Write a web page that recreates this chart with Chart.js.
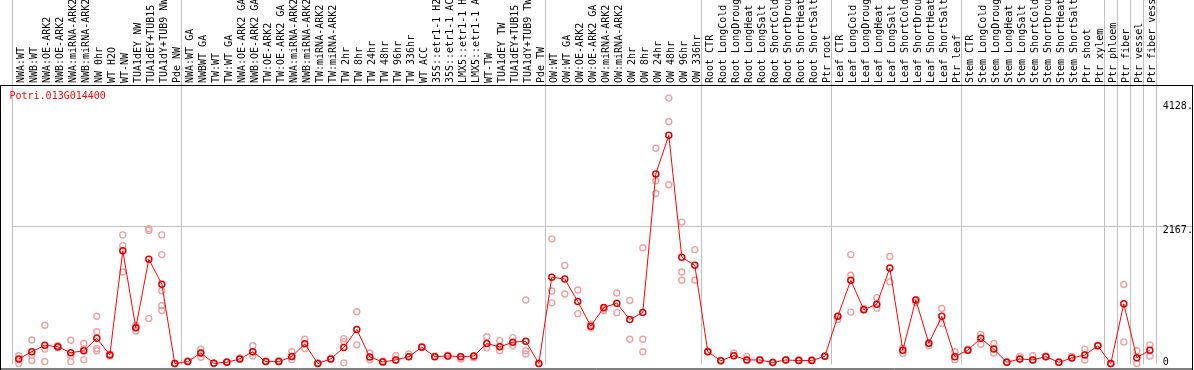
<!DOCTYPE html>
<html>
<head>
<meta charset="utf-8">
<style>
  html, body { margin: 0; padding: 0; background: #ffffff; }
  #c { display: block; }
</style>
<script src="https://cdn.jsdelivr.net/npm/chart.js@4.4.0/dist/chart.umd.min.js"></script>
</head>
<body>
<canvas id="c" width="1194" height="370"></canvas>
<script>
const GENE = 'Potri.013G014400';

const CATEGORIES = [
  'NWA:WT', 'NWB:WT', 'NWA:OE-ARK2', 'NWB:OE-ARK2', 'NWA:miRNA-ARK2', 'NWB:miRNA-ARK2',
  'NW 0hr', 'WT H2O', 'WT-NW', 'TUA1dEY NW', 'TUA1dEY+TUB15 NW', 'TUA1dY+TUB9 NW', 'Pde NW',
  'NWA:WT GA', 'NWBWT GA', 'TW:WT', 'TW:WT GA', 'NWA:OE-ARK2 GA', 'NWB:OE-ARK2 GA',
  'TW:OE-ARK2', 'TW:OE-ARK2 GA', 'NWA:miRNA-ARK2', 'NWB:miRNA-ARK2', 'TW:miRNA-ARK2',
  'TW:miRNA-ARK2', 'TW 2hr', 'TW 8hr', 'TW 24hr', 'TW 48hr', 'TW 96hr', 'TW 336hr',
  'WT ACC', '35S::etr1-1 H2O', '35S::etr1-1 ACC', 'LMX5::etr1-1 H2O', 'LMX5::etr1-1 ACC',
  'WT-TW', 'TUA1dEY TW', 'TUA1dEY+TUB15 TW', 'TUA1dY+TUB9 TW', 'Pde TW',
  'OW:WT', 'OW:WT GA', 'OW:OE-ARK2', 'OW:OE-ARK2 GA', 'OW:miRNA-ARK2', 'OW:miRNA-ARK2',
  'OW 2hr', 'OW 8hr', 'OW 24hr', 'OW 48hr', 'OW 96hr', 'OW 336hr',
  'Root CTR', 'Root LongCold', 'Root LongDrought', 'Root LongHeat', 'Root LongSalt',
  'Root ShortCold', 'Root ShortDrought', 'Root ShortHeat', 'Root ShortSalt', 'Ptr root',
  'Leaf CTR', 'Leaf LongCold', 'Leaf LongDrought', 'Leaf LongHeat', 'Leaf LongSalt',
  'Leaf ShortCold', 'Leaf ShortDrought', 'Leaf ShortHeat', 'Leaf ShortSalt', 'Ptr leaf',
  'Stem CTR', 'Stem LongCold', 'Stem LongDrought', 'Stem LongHeat', 'Stem LongSalt',
  'Stem ShortCold', 'Stem ShortDrought', 'Stem ShortHeat', 'Stem ShortSalt',
  'Ptr shoot', 'Ptr xylem', 'Ptr phloem', 'Ptr fiber', 'Ptr vessel', 'Ptr fiber vessel'
];

const MEANS = [
  73, 187, 290, 264, 171, 202, 399, 135, 1783, 565, 1648, 1254, 0,
  31, 166, 5, 20, 73, 187, 31, 31, 110, 311, 0, 73, 254, 539, 104, 26, 57, 109,
  259, 109, 119, 109, 119, 316, 264, 337, 352, 0,
  1365, 1335, 979, 591, 886, 953, 695, 808, 2995, 3606, 1679, 1552,
  187, 44, 124, 57, 57, 16, 57, 47, 47, 114,
  746, 1316, 850, 938, 1508, 212, 1005, 321, 746, 109,
  212, 399, 228, 20, 73, 57, 109, 20, 88, 135, 280,
  0, 943, 93, 212
];

const REPLICATES = [
  [124, 62, 0], [373, 47, 140], [606, 228, 31], [264, 250, 280], [368, 124, 31],
  [316, 62, 230], [746, 502, 238, 202], [151, 120, 135], [2032, 1861, 1446],
  [513, 600, 580], [2130, 2103, 710], [2032, 1721, 1150, 912, 839], [0, 0],
  [31, 40], [228, 166, 100], [5, 10], [20, 30], [73, 90], [280, 124, 187],
  [31, 40], [31, 45], [187, 110, 60], [384, 238], [0, 10], [73, 80],
  [394, 347, 11], [819, 295], [166, 62], [26, 40], [124, 57], [151, 109],
  [259, 270], [109, 120], [119, 130], [73, 109], [119, 90],
  [424, 249], [362, 202], [409, 280], [1005, 202, 151], [0],
  [1969, 1146, 959], [1550, 1099], [1161, 788], [564, 617], [866, 835],
  [1115, 804], [995, 384], [1830, 384, 187], [3400, 2887, 2685],
  [4193, 3819, 2825], [2234, 1446, 1316], [1799, 1316],
  [187, 200], [44, 50], [166, 124], [114, 57], [57, 60], [16, 20], [57, 60],
  [47, 60], [47, 60], [114, 120],
  [695, 746], [1721, 1394, 813], [850, 870], [1041, 875], [1690, 1290],
  [160, 244], [964, 1005], [280, 321], [870, 632], [187, 62],
  [212, 230], [461, 306], [316, 166], [20, 30], [114, 73], [124, 57],
  [109, 120], [20, 25], [114, 88], [228, 57], [280, 290],
  [0, 0], [1248, 342], [202, 0], [295, 119]
];

const Y_TICKS = [0, 2167, 4128];
const Y_TICK_LABELS = ['0', '2167.', '4128.'];
const SEPARATORS = [0, 13, 41, 53, 63, 73, 84, 85, 86, 87, 88];

const FONT = '10px "DejaVu Sans Mono", monospace';

const meanPoints = MEANS.map((v, i) => ({ x: i, y: v }));
const repPoints = [];
REPLICATES.forEach((reps, i) => reps.forEach(v => repPoints.push({ x: i, y: v })));

const framePlugin = {
  id: 'frame',
  afterDraw(chart) {
    const ctx = chart.ctx;
    const ca = chart.chartArea;
    const W = chart.width, H = chart.height;
    ctx.save();
    ctx.strokeStyle = '#000000';
    ctx.lineWidth = 1;
    ctx.beginPath();
    ctx.moveTo(0, ca.top + 0.5); ctx.lineTo(W - 1, ca.top + 0.5);
    ctx.moveTo(0.5, ca.top); ctx.lineTo(0.5, H);
    ctx.moveTo(W - 1.5, ca.top); ctx.lineTo(W - 1.5, H);
    ctx.moveTo(0, H - 1); ctx.lineTo(W - 1, H - 1);
    ctx.stroke();

    // y-axis labels (right side), text hangs below its grid value
    const ys = chart.scales.y;
    ctx.font = FONT;
    ctx.fillStyle = '#000000';
    ctx.textAlign = 'left';
    ctx.textBaseline = 'middle';
    Y_TICKS.forEach((v, k) => {
      let py = ys.getPixelForValue(v) + 4.4;
      py = Math.min(py, H - 8);
      ctx.fillText(Y_TICK_LABELS[k], ca.right + 6.5, py);
    });

    // gene title
    ctx.fillStyle = '#ff0000';
    ctx.fillText(GENE, 9.5, ca.top + 11);
    ctx.restore();
  }
};

new Chart(document.getElementById('c'), {
  type: 'line',
  data: {
    datasets: [
      {
        label: 'mean',
        data: meanPoints,
        borderColor: '#ff0000',
        borderWidth: 1,
        pointRadius: 3,
        pointBorderWidth: 1.5,
        pointBorderColor: '#e00000',
        pointBackgroundColor: 'rgba(0,0,0,0)',
        pointStyle: 'circle',
        tension: 0,
        clip: false
      },
      {
        label: 'replicates',
        data: repPoints,
        showLine: false,
        pointRadius: 3,
        pointBorderWidth: 1.4,
        pointBorderColor: '#f0a0a0',
        pointBackgroundColor: 'rgba(0,0,0,0)',
        clip: false
      }
    ]
  },
  options: {
    responsive: false,
    animation: false,
    devicePixelRatio: 1,
    events: [],
    layout: { padding: { left: 12.3, right: 0, top: 0, bottom: -3 } },
    plugins: {
      legend: { display: false },
      tooltip: { enabled: false },
      title: { display: false }
    },
    scales: {
      x: {
        type: 'linear',
        position: 'top',
        min: -0.5,
        max: CATEGORIES.length - 0.5,
        afterBuildTicks(scale) {
          const vals = [];
          for (let i = 0; i < CATEGORIES.length; i++) vals.push(i);
          SEPARATORS.forEach(s => vals.push(s - 0.5));
          vals.sort((a, b) => a - b);
          scale.ticks = vals.map(v => ({ value: v }));
        },
        afterFit(scale) { scale.height = 85; },
        ticks: {
          autoSkip: false,
          minRotation: 90,
          maxRotation: 90,
          padding: -83,
          labelOffset: 15,
          color: '#000000',
          font: { family: '"DejaVu Sans Mono", monospace', size: 10 },
          callback: (v) => Number.isInteger(v) ? CATEGORIES[v] : ''
        },
        grid: {
          drawTicks: true,
          tickLength: 85,
          lineWidth: 1,
          color: (ctx) => (ctx.tick && !Number.isInteger(ctx.tick.value)) ? '#c0c0c0' : 'rgba(0,0,0,0)'
        },
        border: { display: false }
      },
      y: {
        type: 'linear',
        position: 'right',
        min: -15,
        max: 4400,
        afterBuildTicks(scale) {
          scale.ticks = Y_TICKS.map(v => ({ value: v }));
        },
        afterFit(scale) { scale.width = 37.7; },
        ticks: { display: false },
        grid: {
          drawTicks: true,
          tickLength: 38,
          lineWidth: 1,
          color: (ctx) => (ctx.tick && ctx.tick.value === 2167) ? '#c0c0c0' : 'rgba(0,0,0,0)'
        },
        border: { display: false }
      }
    }
  },
  plugins: [framePlugin]
});
</script>
</body>
</html>
